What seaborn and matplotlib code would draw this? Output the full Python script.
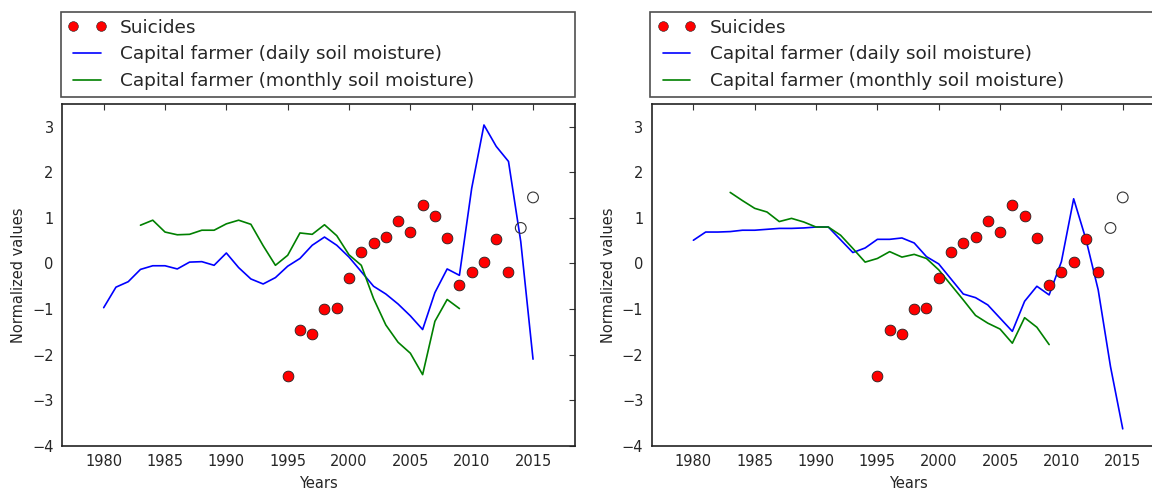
import matplotlib
matplotlib.use("Agg")
import matplotlib.pyplot as plt
import seaborn as sns
from matplotlib.lines import Line2D
from matplotlib.legend_handler import HandlerLine2D

# years on the x axis
years = list(range(1980, 2016))
monthly_years = list(range(1983, 2010))
suicide_years = list(range(1995, 2014))
projected_years = [2014, 2015]

# normalized suicide counts (same in both panels)
suicides = [-2.47, -1.47, -1.55, -0.99, -0.98, -0.31, 0.26, 0.44, 0.59, 0.94,
            0.69, 1.28, 1.05, 0.56, -0.48, -0.18, 0.04, 0.54, -0.18]
suicides_projected = [0.78, 1.45]

# left panel
left_daily = [-0.97, -0.52, -0.40, -0.13, -0.05, -0.05, -0.12, 0.03, 0.04, -0.04,
              0.23, -0.09, -0.34, -0.45, -0.31, -0.06, 0.11, 0.40, 0.58, 0.40,
              0.14, -0.18, -0.50, -0.67, -0.89, -1.15, -1.45, -0.64, -0.12, -0.26,
              1.65, 3.04, 2.57, 2.24, 0.48, -2.10]
left_monthly = [0.84, 0.95, 0.69, 0.63, 0.64, 0.73, 0.73,
                0.87, 0.95, 0.86, 0.39, -0.04, 0.18, 0.67, 0.64, 0.85, 0.61,
                0.19, -0.04, -0.77, -1.35, -1.73, -1.97, -2.44, -1.27, -0.79, -0.99]

# right panel
right_daily = [0.51, 0.69, 0.69, 0.70, 0.73, 0.73, 0.75, 0.77, 0.77, 0.78,
               0.80, 0.80, 0.52, 0.24, 0.34, 0.53, 0.53, 0.56, 0.45, 0.15,
               -0.01, -0.34, -0.67, -0.75, -0.91, -1.20, -1.49, -0.83, -0.50, -0.69,
               0.04, 1.42, 0.53, -0.58, -2.26, -3.63]
right_monthly = [1.56, 1.38, 1.21, 1.13, 0.92, 0.99, 0.91,
                 0.80, 0.80, 0.62, 0.33, 0.03, 0.11, 0.26, 0.14, 0.20, 0.11,
                 -0.14, -0.47, -0.80, -1.14, -1.31, -1.44, -1.75, -1.19, -1.40, -1.78]

labels = ["Suicides",
          "Capital farmer (daily soil moisture)",
          "Capital farmer (monthly soil moisture)"]

sns.set_style("white")
plt.rcParams["font.family"] = ["DejaVu Sans"]

fig = plt.figure(figsize=(11.52, 4.9), dpi=100)
ax_left = fig.add_axes([0.0538, 0.0904, 0.4451, 0.6973])
ax_right = fig.add_axes([0.5657, 0.0904, 0.4451, 0.6973])


def draw_panel(ax, daily, monthly):
    sns.lineplot(x=years, y=daily, ax=ax, color="#0000ff", lw=1.2)
    sns.lineplot(x=monthly_years, y=monthly, ax=ax, color="#008000", lw=1.2)
    sns.scatterplot(x=suicide_years, y=suicides, ax=ax, color="red",
                    edgecolor="#222222", linewidth=0.6, s=60, zorder=3)
    sns.scatterplot(x=projected_years, y=suicides_projected, ax=ax,
                    facecolor="none", edgecolor="#333333", linewidth=0.8,
                    s=60, zorder=3)

    ax.set_xlim(1976.6, 2018.4)
    ax.set_ylim(-4, 3.5)
    ax.set_xticks(range(1980, 2016, 5))
    ax.set_yticks(range(-4, 4))
    ax.tick_params(direction="in", length=4, width=0.8, top=True, right=True,
                   labelsize=10.5, pad=6, color="#333333")
    for sp in ax.spines.values():
        sp.set_color("#222222")
        sp.set_linewidth(1.2)
    ax.set_xlabel("Years", fontsize=10.5, labelpad=5)
    ax.set_ylabel("Normalized values", fontsize=10.5, labelpad=4)

    handles = [
        Line2D([], [], ls="none", marker="o", color="red",
               markeredgecolor="#222222", markeredgewidth=0.4, markersize=7),
        Line2D([], [], color="#0000ff", lw=1.2),
        Line2D([], [], color="#008000", lw=1.2),
    ]
    hmap = {h: HandlerLine2D(marker_pad=0, xpad=0.29) for h in handles}
    leg = ax.legend(handles, labels, loc="lower left", mode="expand",
                    bbox_to_anchor=(-0.0025, 1.02, 1.0025, 0.2), borderaxespad=0,
                    numpoints=2, fontsize=13.3, frameon=True, fancybox=False,
                    handlelength=1.78, handletextpad=1.04, borderpad=0.38,
                    labelspacing=0.47, handler_map=hmap)
    leg.get_frame().set_edgecolor("#222222")
    leg.get_frame().set_linewidth(1.2)


draw_panel(ax_left, left_daily, left_monthly)
draw_panel(ax_right, right_daily, right_monthly)

fig.savefig("out.png", dpi=100)
